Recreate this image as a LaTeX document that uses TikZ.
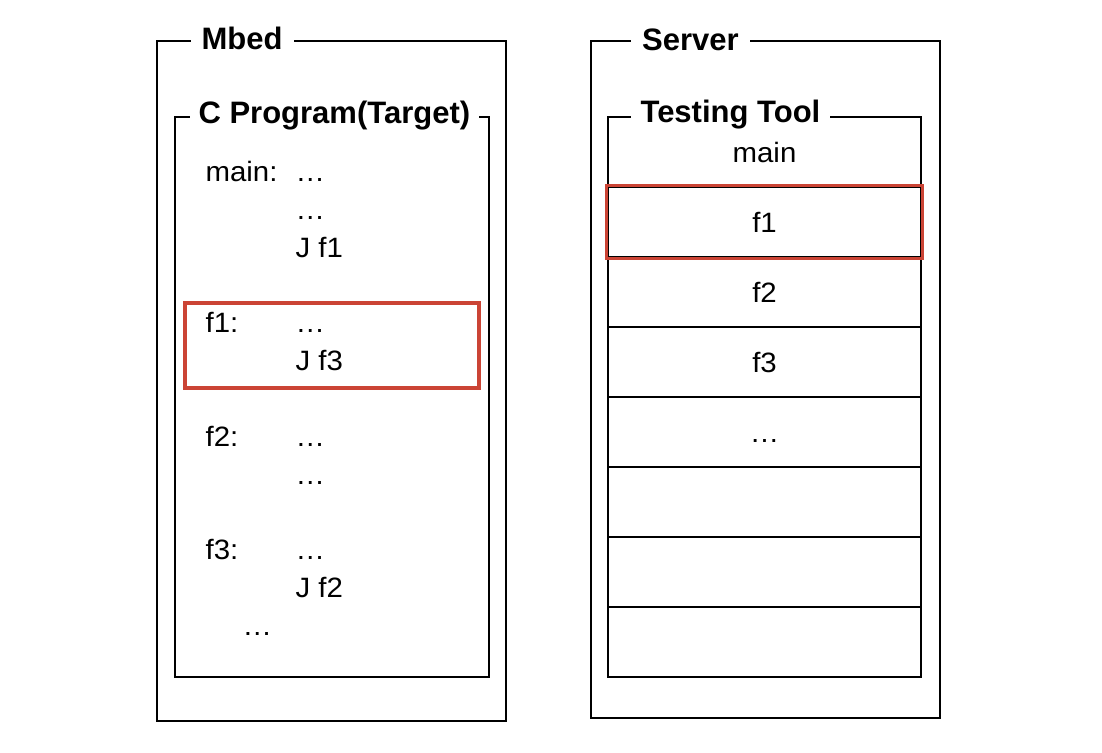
\documentclass[tikz,border=0pt]{standalone}
\usepackage{fontspec}
\setmainfont{Liberation Sans}
\newfontfamily\codefont[FakeStretch=1.05]{Liberation Sans}
\usetikzlibrary{fit}
\usetikzlibrary{positioning}
\definecolor{hired}{RGB}{203,68,53}

\begin{document}
\begin{tikzpicture}[x=1pt, y=-1pt, line width=1.2pt,
        box title/.style={fill=white, inner ysep=2pt, anchor=base west, font=\fontsize{31}{37}\selectfont\bfseries},
        code/.style={inner sep=0pt, anchor=base west, font=\codefont\fontsize{28}{34}\selectfont},
        row/.style={draw, minimum width=313pt, minimum height=70pt, inner sep=0pt, outer sep=0pt, text height=20pt, text depth=0pt, font=\codefont\fontsize{28}{34}\selectfont},
        hilite/.style={draw=hired, line width=3.3pt}]
    \useasboundingbox (0,0) rectangle (1102,752);
    % Mbed side
    \draw (157,41) rectangle (506,721);
    \draw (175,117) rectangle (489,677);
    \node[box title, inner xsep=11pt] (mbed) at (190,49.5) {Mbed};
    \node[box title, inner xsep=9pt] (cprog) at (189,123.5) {C Program(Target)};
    \foreach \k/\lbl in {0/main:, 4/f1:, 7/f2:, 10/f3:}
        \node[code] (lbl\k) at (205,{181.7+37.8*\k}) {\lbl};
    \foreach \k/\ins in {0/…, 1/…, 2/J f1, 4/…, 5/J f3, 7/…, 8/…, 10/…, 11/J f2}
        \node[code] (ins\k) at (295,{181.7+37.8*\k}) {\ins};
    \node[code] (ins12) at (242,{181.7+37.8*12}) {…};
    \draw[hilite] (185,303) rectangle (479,388);
    % Server side
    \draw (591,41) rectangle (940,718);
    \node[row, anchor=north west] (r0) at (608,117) {main};
    \foreach \txt [count=\i, remember=\i as \j (initially 0)] in {f1, f2, f3, …, {}, {}, {}}
        \node[row, below=0pt of r\j] (r\i) {\txt};
    \node[hilite, fit=(r1), inner sep=1.5pt] (mark) {};
    \node[box title, inner xsep=11.5pt] (server) at (630,51) {Server};
    \node[box title, inner xsep=10pt] (tool) at (630,122) {Testing Tool};
\end{tikzpicture}
\end{document}
